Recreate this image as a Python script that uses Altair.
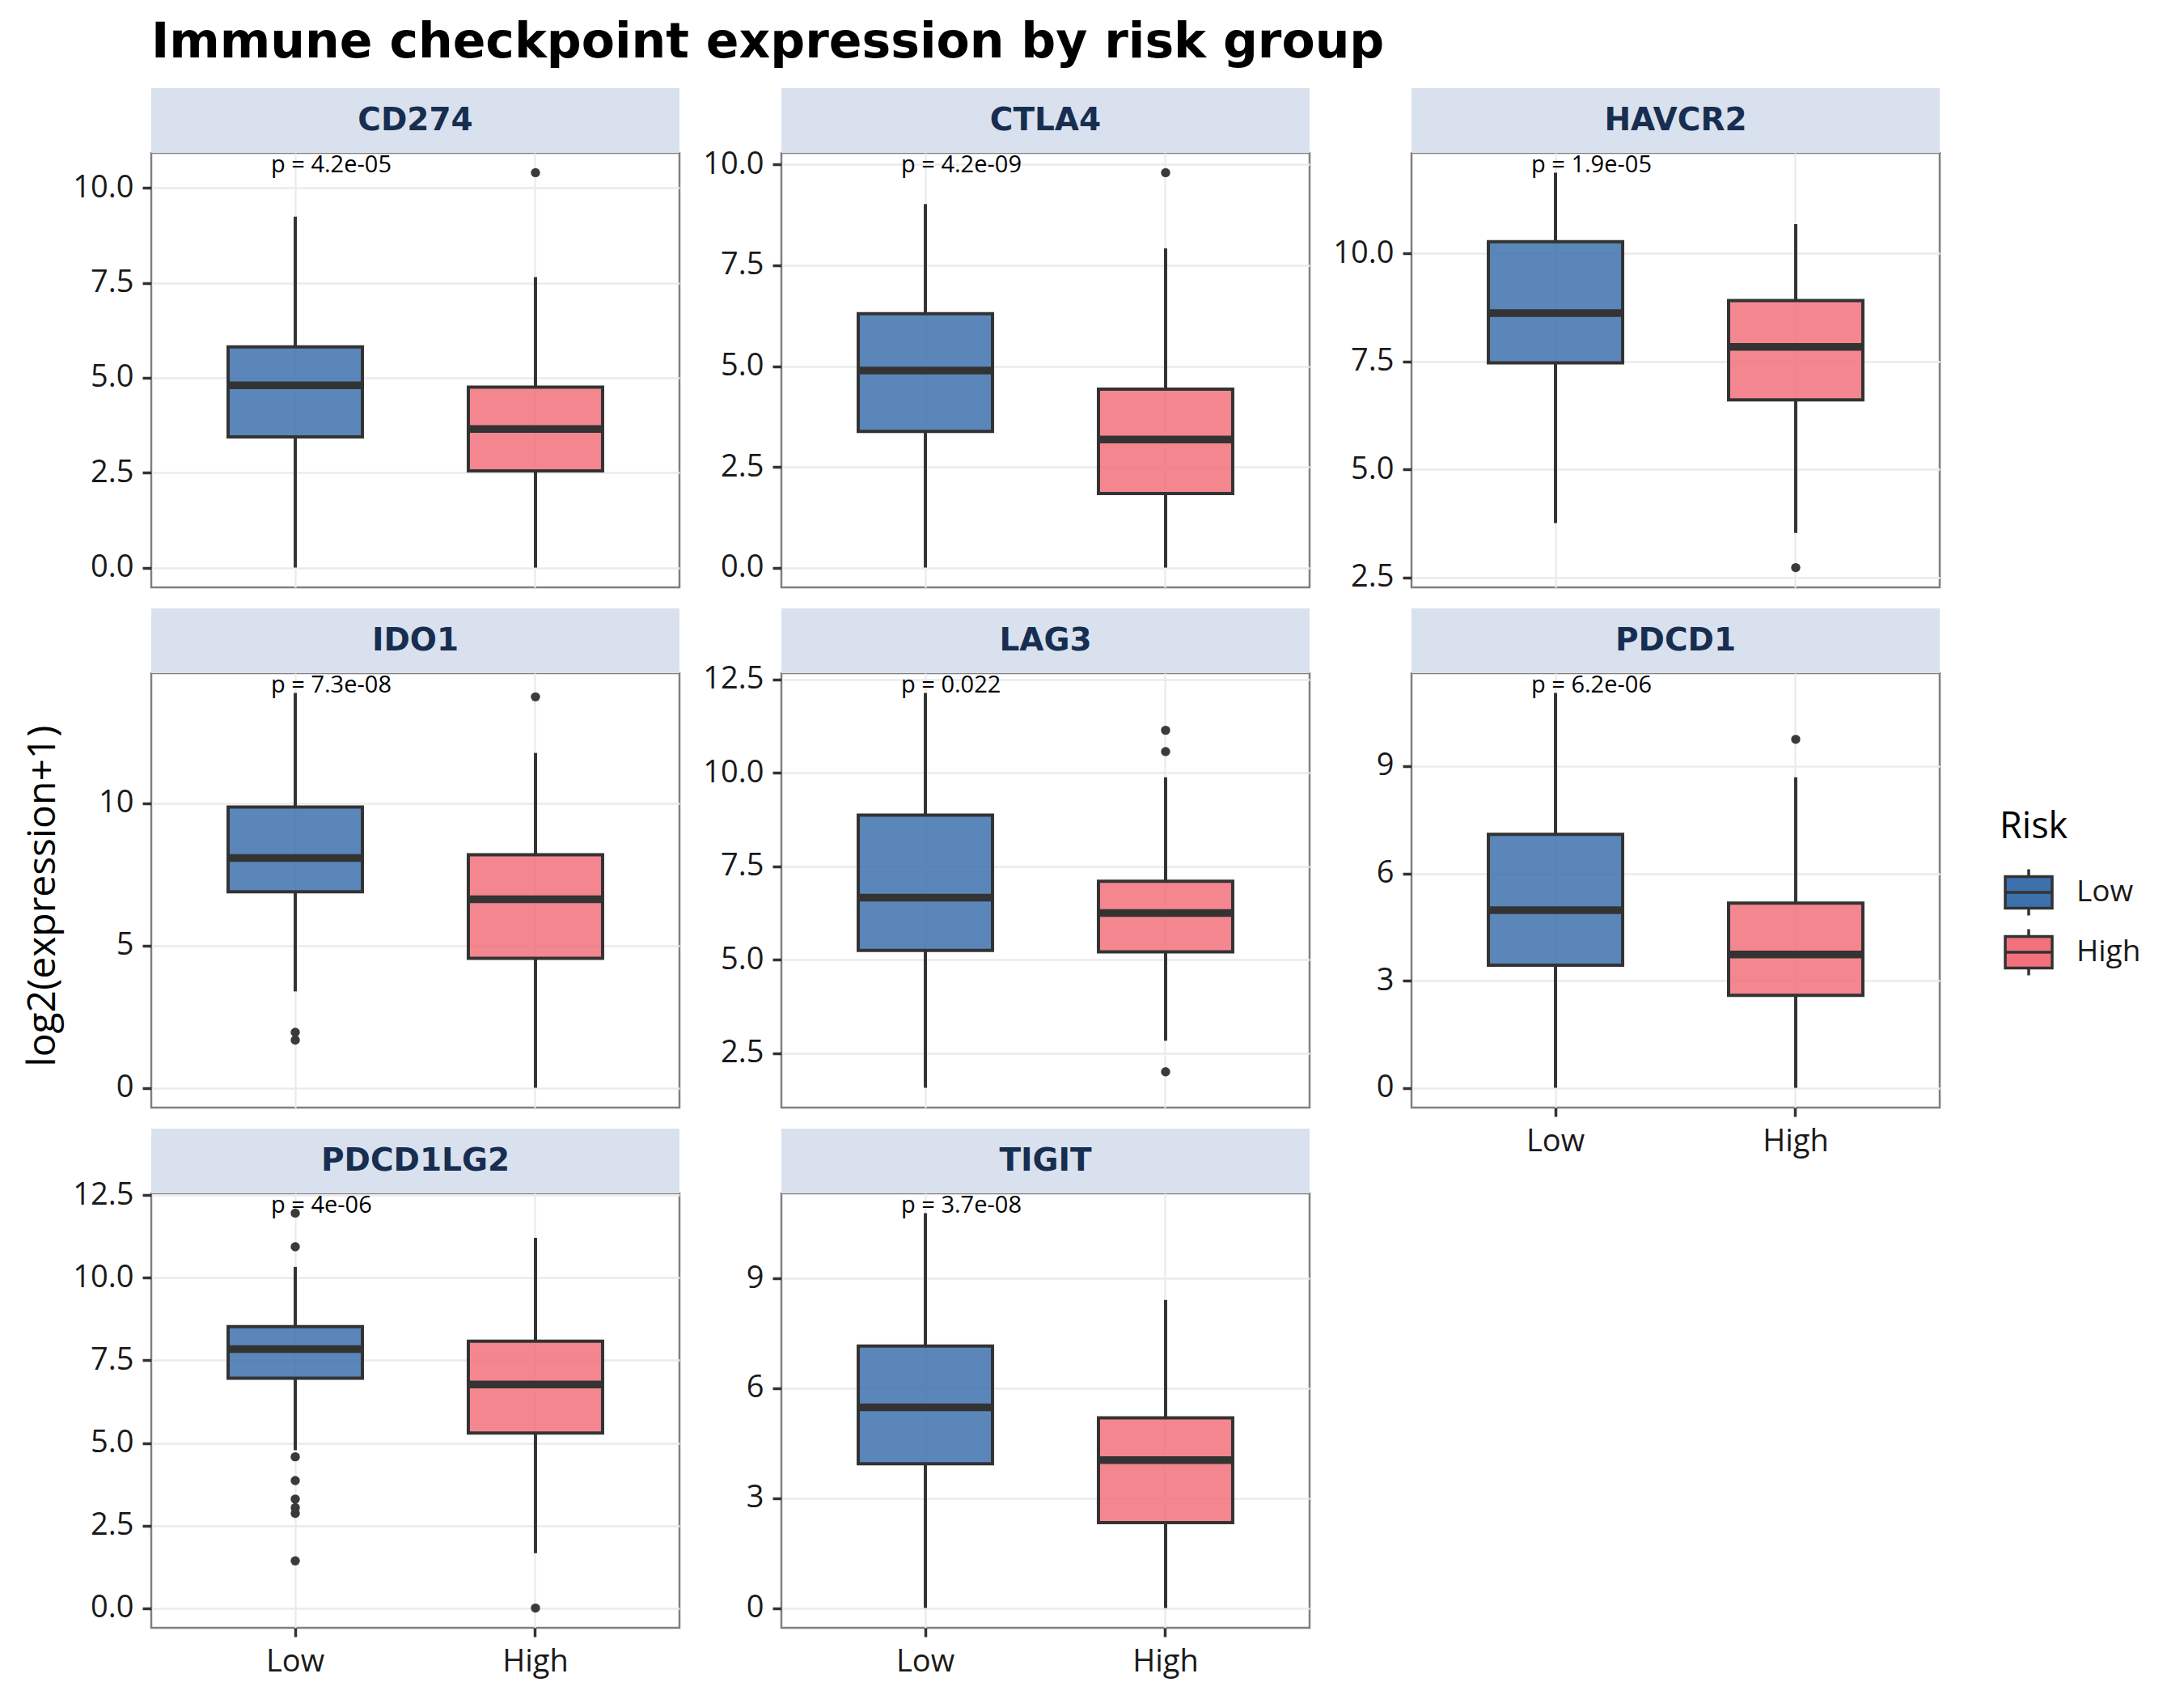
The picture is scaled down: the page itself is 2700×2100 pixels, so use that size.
import altair as alt
import pandas as pd

# Genes shown, one panel each (3 per row)
GENES = ["CD274", "CTLA4", "HAVCR2", "IDO1", "LAG3", "PDCD1", "PDCD1LG2", "TIGIT"]
RISK = ["Low", "High"]

# Box-plot summaries of log2(expression+1), one entry per gene
LOW_MIN = [0.0, 0.0, 3.76, 3.39, 1.57, 0.0, 4.78, 0.0]
LOW_Q1 = [3.44, 3.38, 7.47, 6.89, 5.25, 3.43, 6.96, 3.94]
LOW_MED = [4.80, 4.89, 8.62, 8.08, 6.66, 4.97, 7.84, 5.48]
LOW_Q3 = [5.81, 6.30, 10.27, 9.87, 8.87, 7.09, 8.52, 7.15]
LOW_MAX = [9.24, 9.02, 11.87, 13.88, 12.14, 11.05, 10.33, 10.78]

HIGH_MIN = [0.0, 0.0, 3.53, 0.0, 2.83, 0.0, 1.66, 0.0]
HIGH_Q1 = [2.55, 1.84, 6.61, 4.55, 5.21, 2.59, 5.30, 2.33]
HIGH_MED = [3.65, 3.18, 7.84, 6.63, 6.25, 3.73, 6.77, 4.04]
HIGH_Q3 = [4.75, 4.43, 8.91, 8.19, 7.10, 5.17, 8.08, 5.19]
HIGH_MAX = [7.65, 7.92, 10.68, 11.77, 9.88, 8.69, 11.21, 8.41]

LOW_OUTLIERS = [[], [], [], [1.95, 1.68], [], [],
                [11.96, 10.94, 4.58, 3.86, 3.30, 3.04, 2.87, 1.43], []]
HIGH_OUTLIERS = [[10.40], [9.80], [2.73], [13.74], [11.14, 10.57, 2.00],
                 [9.75], [0.0], []]

P_LABELS = ["p = 4.2e-05", "p = 4.2e-09", "p = 1.9e-05", "p = 7.3e-08",
            "p = 0.022", "p = 6.2e-06", "p = 4e-06", "p = 3.7e-08"]

Y_TICKS = [[0, 2.5, 5, 7.5, 10], [0, 2.5, 5, 7.5, 10], [2.5, 5, 7.5, 10],
           [0, 5, 10], [2.5, 5, 7.5, 10, 12.5], [0, 3, 6, 9],
           [0, 2.5, 5, 7.5, 10, 12.5], [0, 3, 6, 9]]
Y_FORMATS = [".1f", ".1f", ".1f", "d", ".1f", "d", ".1f", "d"]

FILLS = ["#3D71AE", "#F2717C"]
INK = "#333333"
W, H = 653, 537
STRIP_H = 80

# ggplot-like boxplot key drawn as the legend symbol
KEY_PATH = ("M-1,-0.67H1V0.67H-1Z M-1,0H1 M0,-0.67V-0.98 M0,0.67V0.98")


def panel(i):
    gene = GENES[i]
    stats = pd.DataFrame({
        "Risk": RISK,
        "lo": [LOW_MIN[i], HIGH_MIN[i]],
        "q1": [LOW_Q1[i], HIGH_Q1[i]],
        "med": [LOW_MED[i], HIGH_MED[i]],
        "q3": [LOW_Q3[i], HIGH_Q3[i]],
        "hi": [LOW_MAX[i], HIGH_MAX[i]],
    })
    outliers = pd.DataFrame({
        "Risk": ["Low"] * len(LOW_OUTLIERS[i]) + ["High"] * len(HIGH_OUTLIERS[i]),
        "value": LOW_OUTLIERS[i] + HIGH_OUTLIERS[i],
    })
    all_vals = stats["lo"].tolist() + stats["hi"].tolist() + outliers["value"].tolist()
    top, bottom = max(all_vals), min(all_vals)
    pad = 0.05 * (top - bottom)
    yscale = alt.Scale(domain=[bottom - pad, top + pad], nice=False, zero=False)
    yaxis = alt.Axis(values=Y_TICKS[i], format=Y_FORMATS[i], title=None)

    bottom_panel = i >= 5
    x = alt.X(
        "Risk:N",
        scale=alt.Scale(domain=RISK, paddingInner=0.441, paddingOuter=0.32),
        axis=alt.Axis(title=None, labels=bottom_panel, ticks=bottom_panel,
                      labelAngle=0, bandPosition=0.5, grid=True,
                      labelPadding=12),
    )

    def Y(field):
        return alt.Y(field, scale=yscale, axis=yaxis)

    base = alt.Chart(stats)
    lower = base.mark_rule(color=INK, strokeWidth=4).encode(
        x=x, y=Y("lo:Q"), y2="q1:Q")
    upper = base.mark_rule(color=INK, strokeWidth=4).encode(
        x=x, y=Y("q3:Q"), y2="hi:Q")
    box = base.mark_bar(fillOpacity=0.85, stroke=INK, strokeWidth=4).encode(
        x=x, y=Y("q1:Q"), y2="q3:Q",
        fill=alt.Fill(
            "Risk:N",
            scale=alt.Scale(domain=RISK, range=FILLS),
            legend=alt.Legend(
                title="Risk", orient="none", legendX=2285, legendY=811,
                padding=0, symbolType=KEY_PATH, symbolSize=3364,
                symbolStrokeColor=INK, symbolStrokeWidth=3.5,
                symbolOffset=5, symbolOpacity=1,
                titleFont="Open Sans", titleFontSize=45,
                titleFontWeight="normal", titleColor="black",
                titlePadding=27, labelFont="Open Sans", labelFontSize=37,
                labelColor="#1A1A1A", labelOffset=28, rowPadding=2,
            ),
        ),
    )
    median = base.mark_tick(color=INK, thickness=9.5, size=166, opacity=1).encode(
        x=x, y=Y("med:Q"))

    layers = [lower, upper, box, median]
    if len(outliers):
        layers.append(
            alt.Chart(outliers).mark_circle(color="#3A3A3A", size=130, opacity=1)
            .encode(x=x, y=Y("value:Q"))
        )

    plabel = pd.DataFrame({"Risk": ["Low"], "y": [top], "label": [P_LABELS[i]]})
    layers.append(
        alt.Chart(plabel).mark_text(
            align="left", baseline="alphabetic", dx=-30,
            font="Open Sans", fontSize=29, color="black")
        .encode(x=x, y=Y("y:Q"), text="label:N")
    )

    strip = pd.DataFrame({"gene": [gene]})
    layers.append(
        alt.Chart(strip).mark_rect(fill="#D9E1EE").encode(
            x=alt.value(0), x2=alt.value(W),
            y=alt.value(-STRIP_H), y2=alt.value(0))
    )
    layers.append(
        alt.Chart(strip).mark_text(
            font="DejaVu Sans", fontWeight="bold", fontSize=39,
            color="#172E50", baseline="middle")
        .encode(text="gene:N", x=alt.value(W / 2), y=alt.value(-STRIP_H / 2))
    )

    if i == 3:
        ytitle = pd.DataFrame({"t": ["log2(expression+1)"]})
        layers.append(
            alt.Chart(ytitle).mark_text(
                angle=270, font="Open Sans", fontSize=48, color="black",
                baseline="middle")
            .encode(text="t:N", x=alt.value(-133), y=alt.value(H / 2 + 7))
        )

    return alt.layer(*layers).properties(width=W, height=H)


chart = (
    alt.concat(*[panel(i) for i in range(len(GENES))], columns=3,
               spacing={"row": 106, "column": 126})
    .properties(
        bounds="flush",
        padding={"left": 28, "top": 22, "right": 10, "bottom": 10},
        title=alt.TitleParams(
            "Immune checkpoint expression by risk group",
            anchor="start", frame="group", font="DejaVu Sans",
            fontSize=60, fontWeight="bold", color="black", offset=24),
    )
    .configure_view(stroke="#808080", strokeWidth=2.5)
    .configure_axis(
        labelFont="Open Sans", labelFontSize=38, labelColor="#1A1A1A",
        tickColor=INK, tickWidth=3.5, tickSize=11, labelPadding=11,
        gridColor="#EBEBEB", gridWidth=2.3, domain=False,
    )
)

chart.save("out.html", embed_options={"renderer": "svg", "actions": False})
